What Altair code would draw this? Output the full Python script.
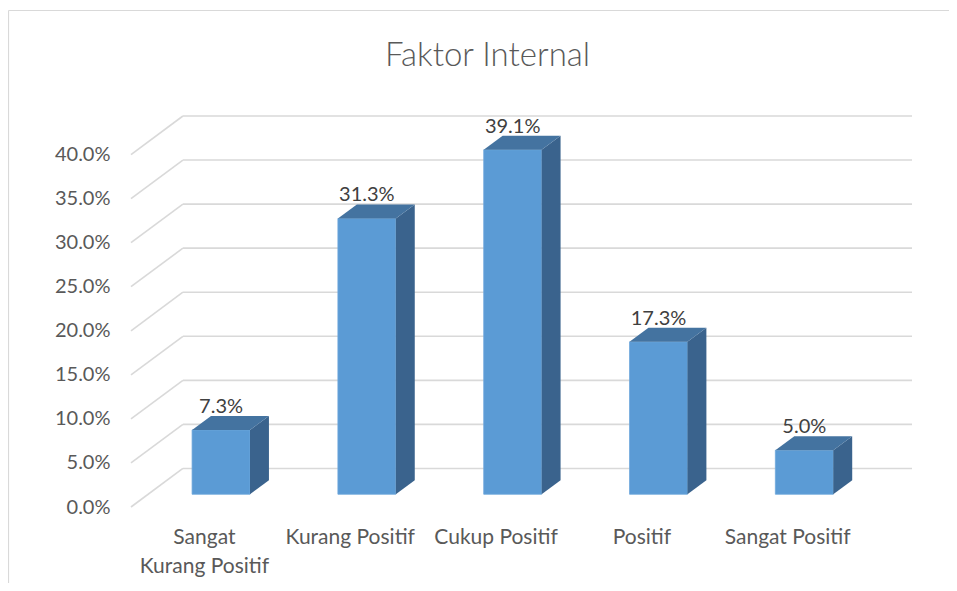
import json
import altair as alt
import pandas as pd

# ---- data ----
categories = ["Sangat Kurang Positif", "Kurang Positif", "Cukup Positif", "Positif", "Sangat Positif"]
label_lines = [["Sangat", "Kurang Positif"], ["Kurang Positif"], ["Cukup Positif"], ["Positif"], ["Sangat Positif"]]
values = [7.3, 31.3, 39.1, 17.3, 5.0]
y_ticks = [0, 5, 10, 15, 20, 25, 30, 35, 40]

# ---- layout (x in category units, y in percent) ----
DEPTH_X = 0.356      # depth of the 3-D box along x
DEPTH_Y = 4.375      # depth of the 3-D box along y
BAR_F = 0.33         # depth fraction where bar front face sits
BAR_D = 0.365        # depth fraction of bar thickness
HALF_W = 0.1986      # half bar width
X_MIN, X_MAX = -0.5, 4.5 + DEPTH_X
Y_MAX = 40 + DEPTH_Y
W, H = 781, 391

FRONT = "#5B9BD5"
SIDE = "#3A638D"
TOP = "#4473A0"
GRID = "#D9D9D9"
TXT = "#595959"

xs = alt.Scale(domain=[X_MIN, X_MAX], nice=False, zero=False)
ys = alt.Scale(domain=[0, Y_MAX], nice=False, zero=False)
XAX = alt.Axis(values=[0, 1, 2, 3, 4], title=None, domain=False, ticks=False, grid=False,
               labelExpr=json.dumps(label_lines) + "[datum.value]",
               labelFont="Lato", labelFontSize=21, labelColor=TXT,
               labelPadding=19, labelLineHeight=29, labelFlush=False, labelOverlap=False)
YAX = alt.Axis(values=y_ticks, title=None, domain=False, ticks=False, grid=False,
               labelExpr="format(datum.value, '.1f') + '%'",
               labelFont="Lato", labelFontSize=20, labelColor=TXT, labelPadding=21)


def X(f):
    return alt.X(f, scale=xs, axis=XAX)


def Y(f):
    return alt.Y(f, scale=ys, axis=YAX)


# gridlines (diagonal on side wall + horizontal on back wall)
gdf = pd.DataFrame({"t": y_ticks})
grid_base = alt.Chart(gdf).transform_calculate(
    xa=f"{X_MIN}", xb=f"{X_MIN + DEPTH_X}", xc=f"{X_MAX}",
    ya="datum.t", yb=f"datum.t + {DEPTH_Y}"
)
diag = grid_base.mark_rule(color=GRID, strokeWidth=1.6).encode(
    x=X("xa:Q"), x2="xb:Q", y=Y("ya:Q"), y2="yb:Q")
back = grid_base.mark_rule(color=GRID, strokeWidth=1.6).encode(
    x=X("xb:Q"), x2="xc:Q", y=Y("yb:Q"))

# bars
dx_b, dy_b = BAR_D * DEPTH_X, BAR_D * DEPTH_Y
rows, side_rows, top_rows = [], [], []
for i, (c, v) in enumerate(zip(categories, values)):
    x0 = i + BAR_F * DEPTH_X - HALF_W
    x1 = x0 + 2 * HALF_W
    yb = BAR_F * DEPTH_Y
    yt = yb + v
    rows.append({"cat": c, "val": v, "x0": x0, "x1": x1, "yb": yb, "yt": yt,
                 "xc": x0 + HALF_W, "ylab": yt + dy_b, "lab": f"{v:.1f}%"})
    side_rows += [{"cat": c, "x": x1, "lo": yb, "hi": yt},
                  {"cat": c, "x": x1 + dx_b, "lo": yb + dy_b, "hi": yt + dy_b}]
    top_rows += [{"cat": c, "y": yt, "l": x0, "r": x1},
                 {"cat": c, "y": yt + dy_b, "l": x0 + dx_b, "r": x1 + dx_b}]
bdf = pd.DataFrame(rows)
sdf = pd.DataFrame(side_rows)
tdf = pd.DataFrame(top_rows)

front = alt.Chart(bdf).mark_rect(color=FRONT, stroke="#6FA8DC", strokeWidth=0.8).encode(
    x=X("x0:Q"), x2="x1:Q", y=Y("yb:Q"), y2="yt:Q")
side = alt.Chart(sdf).mark_area(color=SIDE).encode(
    x=X("x:Q"), y=Y("hi:Q"), y2="lo:Q", detail="cat:N")
top = alt.Chart(tdf).mark_area(color=TOP, orient="horizontal").encode(
    y=Y("y:Q"), x=X("l:Q"), x2="r:Q", detail="cat:N")
labels = alt.Chart(bdf).mark_text(font="Lato", fontSize=20, color="#404040",
                                  baseline="alphabetic", dy=-3).encode(
    x=X("xc:Q"), y=Y("ylab:Q"), text="lab:N")

# chart-area frame
one = pd.DataFrame({"k": [0]})
frame_top = alt.Chart(one).mark_rule(color=GRID, strokeWidth=1.2).encode(
    x=alt.value(-122.5), x2=alt.value(W + 37), y=alt.value(-105.5))
frame_left = alt.Chart(one).mark_rule(color=GRID, strokeWidth=1.2).encode(
    x=alt.value(-122.5), y=alt.value(-105.5), y2=alt.value(H + 76))

chart = alt.layer(diag, back, front, side, top, labels, frame_top, frame_left).properties(
    width=W, height=H,
    autosize=alt.AutoSizeParams(type="none"),
    padding={"left": 123, "top": 108, "right": 37, "bottom": 76},
    title=alt.TitleParams("Faktor Internal", font="Lato", fontSize=33, fontWeight=300, color=TXT,
                          anchor="middle", frame="group", baseline="alphabetic", offset=0, dy=89, dx=-34),
    background="white",
).configure_view(stroke=None)

chart.save("out.html", embed_options={"renderer": "svg", "actions": False})
